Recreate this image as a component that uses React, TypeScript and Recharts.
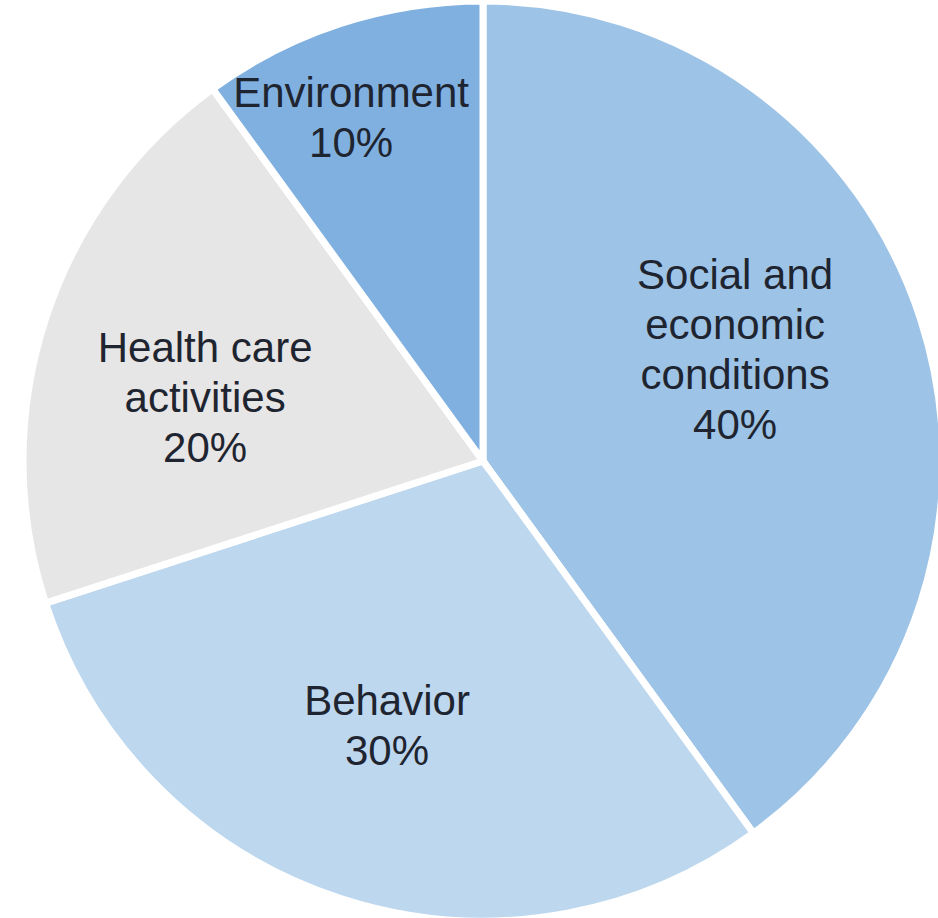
import { PieChart, Pie, Cell } from "recharts";

const categories = ["Social and economic conditions", "Behavior", "Health care activities", "Environment"];
const shares = [40, 30, 20, 10];
const labelLines = [["Social and", "economic", "conditions"], ["Behavior"], ["Health care", "activities"], ["Environment"]];

const COLORS = ["#9dc3e6", "#bdd7ee", "#e7e6e6", "#80b0e0"];

// label placement tweaks (radius fraction, angle nudge in degrees)
const LABEL_RADIUS = [0.6, 0.61, 0.62, 0.8];
const LABEL_NUDGE = [6, -2, 5, 3];

const RAD = Math.PI / 180;
const LINE_HEIGHT = 50;

const data = categories.map((name, i) => ({ name, value: shares[i], lines: labelLines[i] }));

function renderLabel(props: any) {
    const { cx, cy, midAngle, outerRadius, index, value } = props;
    const r = outerRadius * LABEL_RADIUS[index];
    const a = (midAngle + LABEL_NUDGE[index]) * RAD;
    const x = cx + r * Math.cos(a);
    const y = cy - r * Math.sin(a);
    const lines = [...data[index].lines, `${value}%`];
    const top = y - ((lines.length - 1) * LINE_HEIGHT) / 2;
    return (
        <text
            x={x}
            y={top}
            textAnchor="middle"
            dominantBaseline="central"
            fill="#1f2530"
            fontSize={42}
            fontFamily="'Liberation Sans', Arial, sans-serif"
        >
            {lines.map((line, i) => (
                <tspan key={i} x={x} y={top + i * LINE_HEIGHT}>
                    {line}
                </tspan>
            ))}
        </text>
    );
}

export default function App() {
    return (
        <div style={{ width: 938, height: 918, background: "#ffffff" }}>
            <style>{`body { margin: 0; }`}</style>
            <PieChart width={938} height={918} margin={{ top: 0, right: 0, bottom: 0, left: 0 }}>
                <Pie
                    data={data}
                    dataKey="value"
                    nameKey="name"
                    cx={483}
                    cy={461}
                    outerRadius={460}
                    startAngle={90}
                    endAngle={-270}
                    stroke="#ffffff"
                    strokeWidth={7}
                    label={renderLabel}
                    labelLine={false}
                    isAnimationActive={false}
                >
                    {data.map((entry, index) => (
                        <Cell key={`cell-${index}`} fill={COLORS[index % COLORS.length]} />
                    ))}
                </Pie>
            </PieChart>
        </div>
    );
}
